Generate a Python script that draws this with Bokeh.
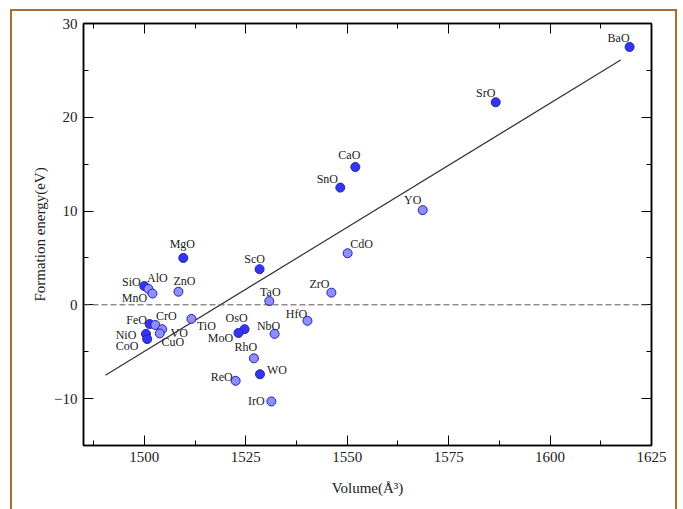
from bokeh.plotting import figure
from bokeh.models import ColumnDataSource, LinearAxis, FixedTicker, Span
from bokeh.core.properties import value
from bokeh.embed import file_html
from bokeh.resources import INLINE

# ---------------- data ----------------
names = ["BaO", "SrO", "CaO", "SnO", "YO", "CdO", "MgO", "ScO", "ZrO",
         "SiO", "AlO", "MnO", "ZnO", "TaO", "HfO", "TiO", "NbO", "OsO",
         "MoO", "RhO", "WO", "ReO", "IrO", "FeO", "CrO", "VO", "CuO",
         "NiO", "CoO"]
volume = [1619.6, 1586.6, 1552.0, 1548.3, 1568.6, 1550.1, 1509.6, 1528.4, 1546.1,
          1500.0, 1501.0, 1502.0, 1508.4, 1530.8, 1540.2, 1511.6, 1532.1, 1524.7,
          1523.2, 1527.0, 1528.5, 1522.5, 1531.3, 1501.3, 1502.7, 1504.4, 1503.8,
          1500.4, 1500.7]
energy = [27.5, 21.6, 14.7, 12.5, 10.1, 5.5, 5.0, 3.8, 1.3,
          2.0, 1.7, 1.2, 1.4, 0.4, -1.7, -1.5, -3.1, -2.6,
          -3.0, -5.7, -7.4, -8.1, -10.3, -2.05, -2.15, -2.6, -3.05,
          -3.1, -3.65]

fit_x = [1490.4, 1617.4]
fit_y = [-7.5, 26.1]

x_ticks = [1500, 1525, 1550, 1575, 1600, 1625]
y_ticks = [-10, 0, 10, 20, 30]

# ---------------- styles ----------------
label_offsets = {
    "BaO": (-11, -9), "SrO": (-10, -9), "CaO": (-6, -12), "SnO": (-13, -9),
    "YO": (-10, -10), "CdO": (14, -9), "MgO": (-1, -14), "ScO": (-5, -10),
    "ZrO": (-12, -9), "SiO": (-13, -4), "AlO": (9, -11), "MnO": (-18, 4),
    "ZnO": (6, -11), "TaO": (1, -9), "HfO": (-11, -7), "TiO": (15, 7),
    "NbO": (-6, -8), "OsO": (-8, -11), "MoO": (-18, 5), "RhO": (-8, -11),
    "WO": (17, -4), "ReO": (-14, -4), "IrO": (-15, 0), "FeO": (-13, -4),
    "CrO": (11, -9), "VO": (17, 4), "CuO": (13, 9), "NiO": (-20, 1),
    "CoO": (-20, 7),
}
light = {"MnO", "AlO", "ZnO", "CrO", "CuO", "VO", "TiO", "TaO", "HfO", "NbO",
         "RhO", "ReO", "IrO", "CdO", "ZrO", "YO"}
DARK_FILL, LIGHT_FILL = "#3434f4", "#8e8eff"

src = ColumnDataSource(dict(
    x=volume, y=energy, name=names,
    dx=[label_offsets[n][0] for n in names],
    dy=[label_offsets[n][1] for n in names],
    fill=[LIGHT_FILL if n in light else DARK_FILL for n in names],
))

SERIF = "Liberation Serif"
BROWN = "2px solid #a86e34"

p = figure(frame_width=568, frame_height=422,
           x_range=(1485, 1625), y_range=(-15, 30),
           output_backend="svg", toolbar_location=None,
           min_border_left=71, min_border_top=12, min_border_right=24,
           min_border_bottom=64, x_axis_location=None, y_axis_location=None)
p.styles = {"margin-left": "10px", "margin-top": "9px",
            "border-left": BROWN, "border-top": BROWN, "border-right": BROWN}
p.background_fill_color = "white"
p.border_fill_color = "white"
p.grid.visible = False
p.outline_line_color = "black"
p.outline_line_width = 1.5

xt = FixedTicker(ticks=x_ticks, minor_ticks=[1487.5 + 12.5 * i for i in range(11)])
yt = FixedTicker(ticks=y_ticks, minor_ticks=[-15 + 5 * i for i in range(10)])


def style_axis(ax):
    ax.axis_line_color = "black"
    ax.axis_line_width = 1.5
    ax.major_tick_in = 10
    ax.major_tick_out = 0
    ax.minor_tick_in = 5
    ax.minor_tick_out = 0
    ax.major_tick_line_color = "black"
    ax.minor_tick_line_color = "black"
    ax.major_label_text_font = SERIF
    ax.major_label_text_font_size = "15px"
    ax.major_label_text_color = "#222222"
    ax.axis_label_text_font = SERIF
    ax.axis_label_text_font_size = "15px"
    ax.axis_label_text_font_style = "normal"
    ax.axis_label_text_color = "#222222"


xb = LinearAxis(ticker=xt, axis_label="Volume(Å³)")
style_axis(xb)
xb.major_label_standoff = 6
xb.axis_label_standoff = 15
p.add_layout(xb, "below")

yl = LinearAxis(ticker=yt, axis_label="Formation energy(eV)")
style_axis(yl)
yl.major_label_standoff = 6
yl.axis_label_standoff = 3
p.add_layout(yl, "left")

xa = LinearAxis(ticker=xt, major_label_overrides={t: "" for t in x_ticks})
style_axis(xa)
xa.major_label_standoff = 0
p.add_layout(xa, "above")

yr = LinearAxis(ticker=yt, major_label_overrides={t: "" for t in y_ticks})
style_axis(yr)
yr.major_label_standoff = 0
p.add_layout(yr, "right")

p.add_layout(Span(location=0, dimension="width", line_color="#555555",
                  line_width=1, line_dash="6 3"))

p.line(fit_x, fit_y, line_color="#333333", line_width=1.2)

p.scatter("x", "y", source=src, size=9, fill_color="fill",
          line_color="#2222b0", line_width=1)

p.text("x", "y", text="name", source=src, x_offset="dx", y_offset="dy",
       text_font=value(SERIF), text_font_size="12px", text_color="#222222",
       text_align="center", text_baseline="middle")

open("out.html", "w").write(file_html(p, INLINE))
